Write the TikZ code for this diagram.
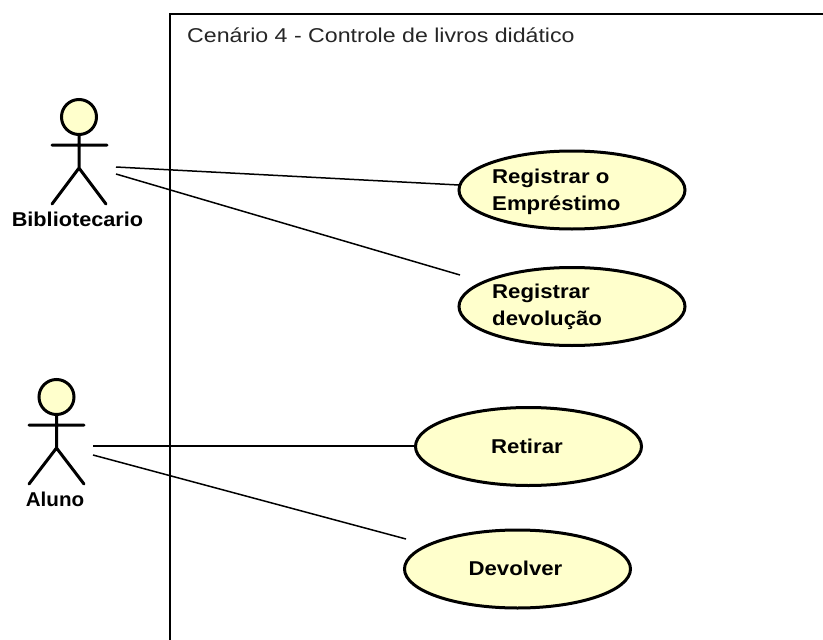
\documentclass[tikz,border=0pt]{standalone}
\usepackage{fontspec}
\setmainfont{Liberation Sans}
\newfontface\titlefont[FakeStretch=1.158]{Liberation Sans}
\newfontface\boldwide[FakeStretch=1.11]{Liberation Sans Bold}
\newfontface\boldmid[FakeStretch=1.085]{Liberation Sans Bold}
\newfontface\boldnarrow[FakeStretch=1.03]{Liberation Sans Bold}
\usetikzlibrary{shapes.geometric}
\definecolor{ucfill}{HTML}{FFFFCC}
\tikzset{
  x=1pt,y=-1pt,
  usecase/.style={ellipse,draw=black,line width=3pt,fill=ucfill,minimum width=226pt,minimum height=78pt,inner sep=0pt,outer sep=0pt},
  uctext/.style={font=\fontsize{20}{27}\boldwide,align=left,anchor=west,inner sep=0pt},
  uccentre/.style={font=\fontsize{20}{24}\boldwide,inner sep=0pt},
  actorlabel/.style={inner sep=0pt},
  actorhead/.style={circle,draw=black,line width=3pt,fill=ucfill,minimum size=35pt,inner sep=0pt,outer sep=0pt},
  actorline/.style={draw=black,line width=3pt,line cap=round},
  assoc/.style={draw=black,line width=1.5pt},
  frameline/.style={draw=black,line width=2pt}
}
\begin{document}
\begin{tikzpicture}
\useasboundingbox (0,0) rectangle (823,640);
\fill[white] (0,0) rectangle (823,640);
% frame
\coordinate (fa) at (823,13.5);
\coordinate (fb) at (169.5,13.5);
\coordinate (fc) at (169.5,640);
\draw[frameline] (fa) -- (fb) -- (fc);
\node[anchor=west,inner sep=0pt,font=\fontsize{20}{24}\titlefont,text=black!85] (title) at (187,35) {Cenário 4 - Controle de livros didático};
% connector ends
\coordinate (b1) at (116,167);
\coordinate (b2) at (116,174);
\coordinate (a1) at (93,446);
\coordinate (a2) at (93,455);
\coordinate (e1) at (459,185);
\coordinate (e2) at (460,275);
\coordinate (e3) at (415,446);
\coordinate (e4) at (406,539);
\draw[assoc] (b1) -- (e1);
\draw[assoc] (b2) -- (e2);
\draw[assoc] (a1) -- (e3);
\draw[assoc] (a2) -- (e4);
% use cases
\node[usecase] (uc1) at (572,190) {};
\node[uctext] (t1) at (492,191.5) {Registrar o\\Empréstimo};
\node[usecase] (uc2) at (572,306.5) {};
\node[uctext] (t2) at (492,306.5) {Registrar\\devolução};
\node[usecase] (uc3) at (528.5,446.5) {};
\node[uccentre] (t3) at (527,446.5) {Retirar};
\node[usecase] (uc4) at (517.5,569) {};
\node[uccentre] (t4) at (515.5,568) {Devolver};
% actor 1
\draw[actorline] (79,134) -- (79,168) (52,145) -- (107,145) (52,204) -- (79,168) -- (106,204);
\node[actorhead] (h1) at (79,117) {};
\node[actorlabel,font=\fontsize{20}{24}\boldmid] (l1) at (77.5,219) {Bibliotecario};
% actor 2
\draw[actorline] (56.5,414) -- (56.5,448) (29,425) -- (84,425) (29,484) -- (56.5,448) -- (84,484);
\node[actorhead] (h2) at (56.5,397) {};
\node[actorlabel,font=\fontsize{20}{24}\boldnarrow] (l2) at (55,499) {Aluno};
\end{tikzpicture}
\end{document}
